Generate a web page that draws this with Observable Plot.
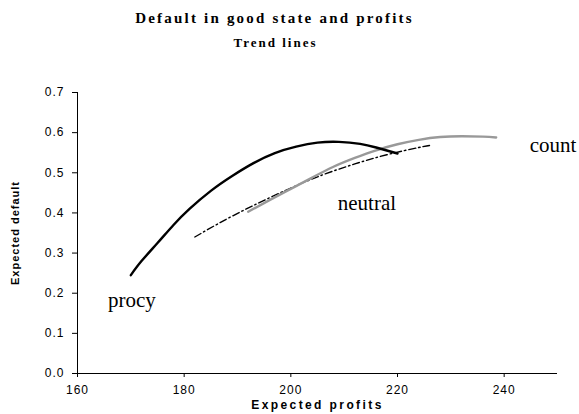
<!DOCTYPE html>
<html>
<head>
<meta charset="utf-8">
<script src="https://cdn.jsdelivr.net/npm/d3@7"></script>
<script src="https://cdn.jsdelivr.net/npm/@observablehq/plot@0.6"></script>
<style>
  html, body { margin: 0; padding: 0; background: #fff; }
  #chart svg { display: block; }
</style>
</head>
<body>
<div id="chart"></div>
<script>
const procyX = [170, 172, 175, 178, 181, 185, 189, 193, 197, 201, 205, 209, 213, 216, 220];
const procyY = [0.245, 0.28, 0.325, 0.37, 0.41, 0.455, 0.492, 0.524, 0.549, 0.565, 0.575, 0.577, 0.572, 0.563, 0.548];

const neutralX = [182, 188, 194, 200, 206, 212, 218, 224, 226];
const neutralY = [0.34, 0.385, 0.425, 0.462, 0.495, 0.522, 0.545, 0.563, 0.568];

const countX = [192, 196, 200, 204, 208, 212, 216, 220, 224, 228, 232, 236, 238.5];
const countY = [0.403, 0.432, 0.46, 0.488, 0.515, 0.537, 0.556, 0.571, 0.582, 0.589, 0.591, 0.59, 0.588];

const labelNames = ["procy", "neutral", "count"];
const labelX = [165.7, 208.8, 244.8];
const labelY = [0.165, 0.407, 0.552];

const xTicks = [160, 180, 200, 220, 240];
const yTicks = [0, 0.1, 0.2, 0.3, 0.4, 0.5, 0.6, 0.7];

const title = "Default in good state and profits";
const subtitle = "Trend lines";
const xLabel = "Expected profits";
const yLabel = "Expected default";

const toRows = (xs, ys) => xs.map((x, i) => ({x, y: ys[i]}));
const labels = labelNames.map((name, i) => ({name, x: labelX[i], y: labelY[i]}));

const chart = Plot.plot({
  width: 579,
  height: 414,
  marginLeft: 77,
  marginRight: 22,
  marginTop: 92,
  marginBottom: 41,
  style: {fontFamily: "Liberation Sans, Arial, sans-serif", fontSize: "12px", color: "#000", background: "#fff", overflow: "visible"},
  x: {domain: [160, 250], ticks: xTicks, tickSize: 4, tickPadding: 8, label: null},
  y: {domain: [0, 0.7], ticks: yTicks, tickFormat: d3.format(".1f"), tickSize: 5, tickPadding: 8, label: null},
  marks: [
    Plot.ruleX([160], {stroke: "#000", strokeWidth: 1}),
    Plot.ruleY([0], {stroke: "#000", strokeWidth: 1}),
    Plot.line(toRows(neutralX, neutralY), {x: "x", y: "y", stroke: "#000", strokeWidth: 1.4, strokeDasharray: "7,3,1.5,3", curve: "natural"}),
    Plot.line(toRows(countX, countY), {x: "x", y: "y", stroke: "#999", strokeWidth: 2.4, curve: "natural"}),
    Plot.line(toRows(procyX, procyY), {x: "x", y: "y", stroke: "#000", strokeWidth: 2.4, curve: "natural"}),
    Plot.text(labels, {x: "x", y: "y", text: "name", textAnchor: "start", lineAnchor: "bottom", fontFamily: "Liberation Serif, Times New Roman, serif", fontSize: 21, fill: "#000", clip: false}),
    Plot.text([title], {frameAnchor: "top", dy: -80, dx: -43, lineAnchor: "top", text: d => d, fontFamily: "Liberation Serif, Times New Roman, serif", fontWeight: "bold", fontSize: 15, fill: "#000"}),
    Plot.text([subtitle], {frameAnchor: "top", dy: -55, dx: -42, lineAnchor: "top", text: d => d, fontFamily: "Liberation Serif, Times New Roman, serif", fontWeight: "bold", fontSize: 13, fill: "#000"}),
    Plot.text([xLabel], {frameAnchor: "bottom", dy: 35, lineAnchor: "bottom", text: d => d, fontWeight: "bold", fontSize: 12, fill: "#000"}),
    Plot.text([yLabel], {frameAnchor: "left", textAnchor: "middle", dx: -62, rotate: -90, text: d => d, fontWeight: "bold", fontSize: 11, fill: "#000"})
  ]
});

const spacing = {[title]: "2.2px", [subtitle]: "2px", [xLabel]: "2.4px", [yLabel]: "1px"};
d3.select(chart).selectAll("text").each(function () {
  const t = this.textContent;
  if (spacing[t]) d3.select(this).style("letter-spacing", spacing[t]);
});
d3.select(chart).selectAll("g[aria-label='x-axis tick label'] text, g[aria-label='y-axis tick label'] text").style("letter-spacing", "1px");
document.getElementById("chart").appendChild(chart);
</script>
</body>
</html>
